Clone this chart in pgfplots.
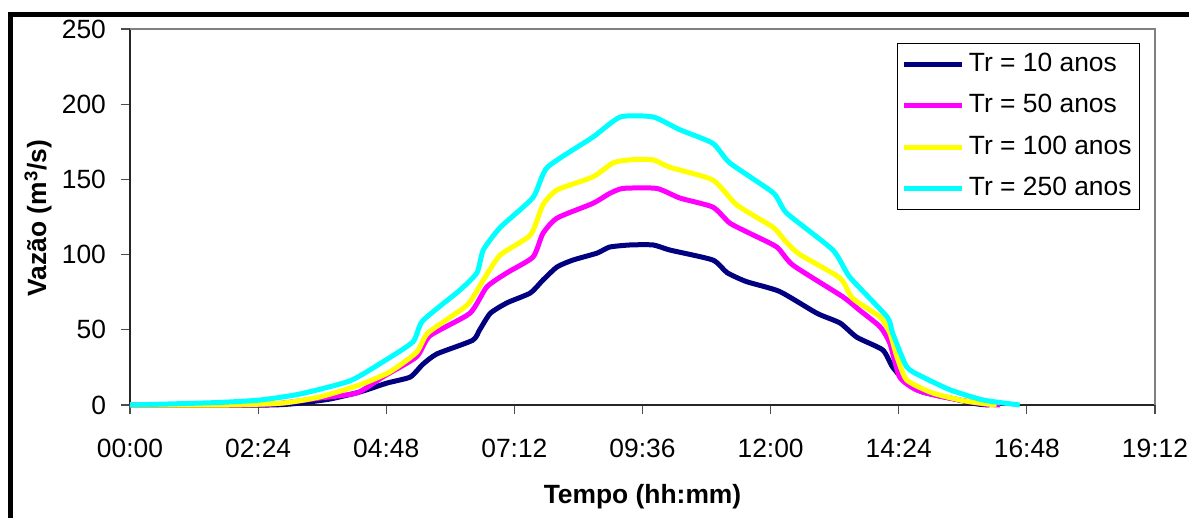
\documentclass[border=0pt]{standalone}
\usepackage{fontspec}
\setmainfont{Liberation Sans}
\usepackage{pgfplots}
\pgfplotsset{compat=1.18}
\definecolor{cNavy}{HTML}{000080}
\definecolor{cMag}{HTML}{FF00FF}
\definecolor{cYel}{HTML}{FFFF00}
\definecolor{cCyan}{HTML}{00FFFF}
\begin{document}
\begin{tikzpicture}
\useasboundingbox (0,0) rectangle (594.5pt,259pt);
\draw[line width=2.2pt, line cap=rect] (5.25pt,-2pt) -- (5.25pt,251.65pt) -- (600pt,251.65pt);
\begin{axis}[
  at={(65pt,56.5pt)}, anchor=south west,
  scale only axis, width=512.5pt, height=188pt,
  xmin=0, xmax=1152, ymin=0, ymax=250,
  axis x line*=bottom, axis y line*=left,
  axis line style={-, draw=black!85, line width=0.8pt},
  tick align=outside, major tick length=4.5pt,
  tick style={draw=black!70, line width=0.6pt},
  xtick={0,144,288,432,576,720,864,1008,1152},
  xticklabels={00:00,02:24,04:48,07:12,09:36,12:00,14:24,16:48,19:12},
  ytick={0,50,100,150,200,250},
  /pgf/number format/assume math mode=true,
  tick label style={font=\fontsize{13.2}{15}\selectfont},
  xticklabel style={yshift=-9pt},
  yticklabel style={xshift=-4pt},
  xlabel={\textbf{Tempo (hh:mm)}},
  ylabel={\textbf{Vazão (m\textsuperscript{3}/s)}},
  label style={font=\fontsize{13.2}{15}\selectfont},
  xlabel style={at={(axis description cs:0.5,-0.2447)}, anchor=center},
  ylabel style={at={(axis description cs:-0.0898,0.497)}, anchor=center, rotate=0},
  clip=false,
  legend style={at={(axis description cs:0.9854,0.9628)}, anchor=north east,
    draw=black, line width=0.5pt, fill=white,
    font=\fontsize{13.2}{15}\selectfont,
    inner xsep=2pt, inner ysep=2pt, row sep=3.75pt,
    nodes={inner sep=2pt, text height=10pt, text depth=3pt}},
  legend cell align=left,
  legend image code/.code={\draw[#1] (0pt,0pt) -- (29pt,0pt);},
  every axis plot/.append style={line width=2.5pt, line join=round, no marks, smooth, tension=0.35},
]
\addplot[cNavy] coordinates {
(0,0) (157,0) (191,1.3) (225,4) (258,8.6) (289,14.6) (315,18.6) (329,27) (345,34)
(385,43) (393,50) (405,61) (424,68) (450,74.5) (464,83) (480,91.8) (498,96.4)
(525,101) (539,105) (562,106.4) (588,106.4) (607,103) (655,96.4) (671,88) (693,82)
(730,75.5) (772,61) (798,54.5) (817,45) (846,36.6) (857,25.3) (873,14.6) (891,8.6)
(922,4.6) (952,0.7) (966,0)};
\addlegendentry{Tr = 10 anos}
\addplot[cMag] coordinates {
(0,0) (135,0) (172,1.3) (213,4.6) (255,8) (284,18.6) (322,32) (337,46) (382,61)
(401,78.5) (424,88) (453,98.4) (464,114) (480,124.3) (520,134) (539,140.6) (554,144)
(592,144) (618,137.6) (655,131.6) (674,121) (697,114) (727,105) (745,93) (801,72)
(820,63) (843,52) (854,41) (865,18.6) (884,10) (914,5.3) (959,0.7) (978,0)};
\addlegendentry{Tr = 50 anos}
\addplot[cYel] coordinates {
(0,0) (112,0) (172,1.3) (213,5.3) (258,13.3) (292,22) (322,35) (335,48) (379,66.5)
(397,83) (416,99.7) (450,113) (464,133) (480,143) (520,151.6) (543,161) (562,163)
(588,163) (607,158) (655,149.6) (682,133) (723,118) (738,108) (753,100) (798,84.4)
(812,71) (843,58.5) (854,48) (862,32) (873,16.6) (902,8) (938,2.7) (974,0)};
\addlegendentry{Tr = 100 anos}
\addplot[cCyan] coordinates {
(0,0) (45,0.7) (101,1.7) (146,3.3) (191,7.3) (247,16) (284,28.6) (318,42) (329,56)
(371,76.5) (390,88) (397,103) (416,118) (453,138) (469,158) (520,178) (551,191.5)
(588,191.5) (618,183) (655,174) (674,161) (723,141) (738,127.6) (790,103) (809,85)
(851,58.5) (857,48) (873,25.3) (891,18.6) (922,10) (959,3.3) (1000,0)};
\addlegendentry{Tr = 250 anos}
\draw[black!50, line width=0.8pt] (rel axis cs:0,1) -- (rel axis cs:1,1) -- (rel axis cs:1,0);
\end{axis}
\end{tikzpicture}
\end{document}
